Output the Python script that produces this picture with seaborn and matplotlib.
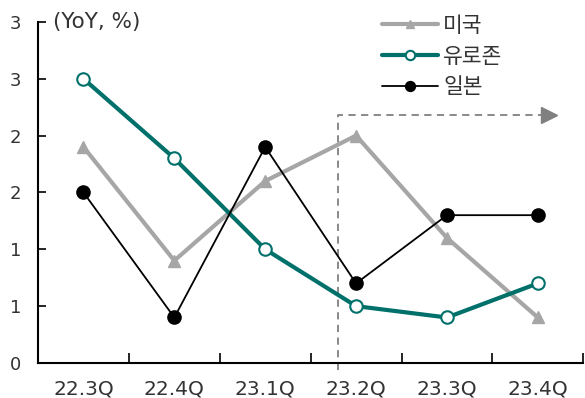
import matplotlib
matplotlib.use("Agg")
import matplotlib.pyplot as plt
import seaborn as sns
import pandas as pd
import numpy as np
from matplotlib.ticker import FixedLocator, FuncFormatter

quarters = ["22.3Q", "22.4Q", "23.1Q", "23.2Q", "23.3Q", "23.4Q"]
us = [1.9, 0.9, 1.6, 2.0, 1.1, 0.4]
eurozone = [2.5, 1.8, 1.0, 0.5, 0.4, 0.7]
japan = [1.5, 0.4, 1.9, 0.7, 1.3, 1.3]
series_names = ["미국", "유로존", "일본"]
y_ticks = [0, 0.5, 1.0, 1.5, 2.0, 2.5, 3.0]

sns.set_theme(style="white")
plt.rcParams["font.family"] = ["DejaVu Sans", "Noto Sans CJK KR"]

df = pd.DataFrame({"quarter": quarters * 3,
                   "x": list(range(len(quarters))) * 3,
                   "value": us + eurozone + japan,
                   "series": sum([[n] * len(quarters) for n in series_names], [])})

fig, ax = plt.subplots(figsize=(5.85, 3.98), dpi=100)
fig.subplots_adjust(left=0.065, right=0.997, top=0.945, bottom=0.088)

styles = {
    "미국": dict(color="#A6A6A6", lw=3.0, marker="^", ms=8.5, mfc="#A6A6A6", mec="#A6A6A6", zorder=2),
    "유로존": dict(color="#00706A", lw=3.0, marker="o", ms=9, mfc="white", mec="#00706A", mew=1.5, zorder=3),
    "일본": dict(color="black", lw=1.3, marker="o", ms=9.5, mfc="black", mec="black", zorder=4),
}
for name in series_names:
    sub = df[df["series"] == name]
    st = styles[name]
    sns.lineplot(data=sub, x="x", y="value", ax=ax, color=st["color"], lw=st["lw"],
                 label=name, zorder=st["zorder"], legend=False)
    line = ax.lines[-1]
    line.set_marker(st["marker"])
    line.set_markersize(st["ms"])
    line.set_markerfacecolor(st["mfc"])
    line.set_markeredgecolor(st["mec"])
    line.set_markeredgewidth(st.get("mew", 1.0))

# dashed bracket marking the recent period
bx, by, bend = 2.8, 2.18, 5.12
ax.plot([bx, bx, bend], [-0.06, by, by], ls=(0, (4, 3)), color="#808080", lw=1.3,
        clip_on=False, zorder=1)
ax.plot([bend], [by], marker=">", ms=12, color="#808080", mec="#808080", ls="none",
        clip_on=False, zorder=1)

ax.set_xlim(-0.5, 5.5)
ax.set_ylim(0, 3.0)
ax.set_xticks(range(len(quarters)))
ax.set_xticklabels(quarters)
ax.xaxis.set_minor_locator(FixedLocator(np.arange(0.5, 5.6, 1.0)))
ax.set_yticks(y_ticks)
ax.yaxis.set_major_formatter(FuncFormatter(lambda v, p: f"{int(np.floor(v + 0.5))}"))
ax.set_xlabel("")
ax.set_ylabel("")

for s in ["top", "right"]:
    ax.spines[s].set_visible(False)
for s in ["left", "bottom"]:
    ax.spines[s].set_color("black")
    ax.spines[s].set_linewidth(1.5)

ax.tick_params(axis="x", which="major", length=0, labelsize=14.5, colors="#333333", pad=12)
ax.tick_params(axis="x", which="minor", direction="in", length=7, width=1.2, color="black", bottom=True)
ax.tick_params(axis="y", direction="in", length=6, width=1.2, color="black", left=True,
               labelsize=13, labelcolor="#333333", pad=12)

ax.text(0.027, 1.0, "(YoY, %)", transform=ax.transAxes, fontsize=15.5, color="#333333",
        va="center", ha="left")

leg = ax.legend(loc="upper left", bbox_to_anchor=(0.603, 1.062), frameon=False, fontsize=15.5,
                handlelength=2.6, handletextpad=0.25, labelspacing=0.5, markerscale=0.75,
                borderaxespad=0.3)
for t in leg.get_texts():
    t.set_color("#333333")

fig.savefig("out.png", dpi=100)
